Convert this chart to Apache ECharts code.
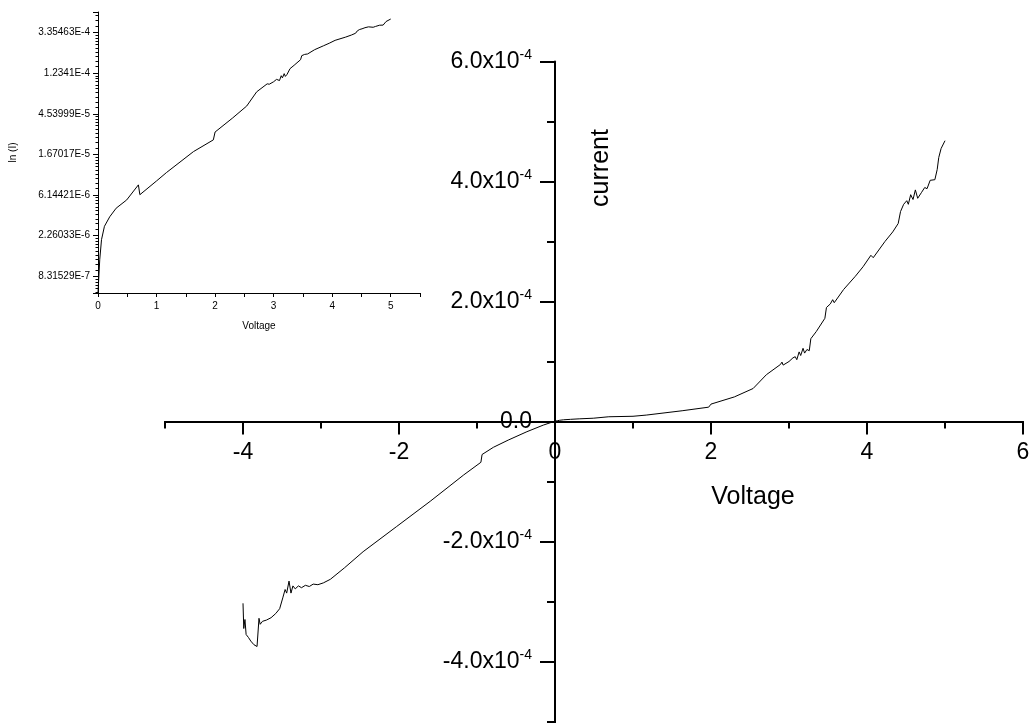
<!DOCTYPE html>
<html>
<head>
<meta charset="utf-8">
<script src="https://cdn.jsdelivr.net/npm/echarts@6/dist/echarts.min.js"></script>
<style>
  html, body { margin: 0; padding: 0; background: #fff; }
  #chart { width: 1031px; height: 723px; }
</style>
</head>
<body>
<div id="chart"></div>
<script>
// I-V sweep, current in units of 1e-4 A
var voltsNeg = [-4.00, -3.99, -3.975, -3.96, -3.93, -3.90, -3.86, -3.82, -3.805, -3.795, -3.78, -3.75, -3.70, -3.64,
  -3.58, -3.53, -3.49, -3.46, -3.44, -3.41, -3.385, -3.36, -3.33, -3.29, -3.25, -3.20, -3.15, -3.10, -3.04, -2.97,
  -2.88, -2.70, -2.46, -2.03, -1.60, -1.17, -0.95, -0.935, -0.79, -0.60, -0.36, -0.15];
var currNeg = [-3.03, -3.45, -3.30, -3.55, -3.60, -3.66, -3.72, -3.75, -3.72, -3.28, -3.38, -3.33, -3.31, -3.27,
  -3.20, -3.12, -2.94, -2.80, -2.86, -2.66, -2.86, -2.74, -2.79, -2.74, -2.77, -2.73, -2.75, -2.71, -2.72, -2.69,
  -2.63, -2.44, -2.17, -1.75, -1.33, -0.89, -0.68, -0.55, -0.43, -0.31, -0.17, -0.06];

var voltsPos = [0, 0.03, 0.06, 0.11, 0.2, 0.31, 0.49, 0.69, 0.715, 1.0, 1.17, 1.63, 1.97, 2.0, 2.3, 2.54, 2.71,
  2.89, 2.91, 2.925, 3.0, 3.05, 3.08, 3.1, 3.13, 3.15, 3.18, 3.2, 3.23, 3.26, 3.28, 3.35, 3.46, 3.48, 3.53, 3.56,
  3.58, 3.7, 3.85, 3.95, 4.05, 4.08, 4.23, 4.33, 4.4, 4.43, 4.47, 4.51, 4.53, 4.56, 4.59, 4.62, 4.65, 4.7, 4.74,
  4.77, 4.81, 4.87, 4.9, 4.92, 4.95, 5.0];
var currPos = [0.0056, 0.0126, 0.0205, 0.0285, 0.036, 0.0445, 0.0545, 0.079, 0.062, 0.087, 0.107, 0.179, 0.239,
  0.29, 0.41, 0.55, 0.78, 0.95, 0.99, 0.94, 1.0, 1.06, 1.08, 1.03, 1.16, 1.10, 1.22, 1.14, 1.20, 1.18, 1.38, 1.50,
  1.72, 1.90, 1.96, 2.03, 1.98, 2.20, 2.42, 2.58, 2.77, 2.73, 3.00, 3.16, 3.30, 3.50, 3.62, 3.68, 3.62, 3.78, 3.70,
  3.86, 3.72, 3.82, 3.90, 3.88, 4.02, 4.03, 4.20, 4.40, 4.55, 4.68];

var xTicksMajor = [-4, -2, 0, 2, 4, 6];
var xTicksMinor = [-5, -3, -1, 1, 3, 5];
var UNIT = 1e-4;

var font = 'Liberation Sans, Arial, sans-serif';

function pairs(xs, ys) {
  return xs.map(function (x, i) { return [x, ys[i] * UNIT]; });
}

var mainData = pairs(voltsNeg, currNeg).concat(pairs(voltsPos, currPos));
var insetData = pairs(voltsPos, currPos);

function expLabel(v) {
  var p = Number(v).toExponential(5).split('e');
  return parseFloat(p[0]).toString() + 'E' + parseInt(p[1], 10);
}

var chart = echarts.init(document.getElementById('chart'));

// main grid runs past the bottom edge; axes are shifted inward so they cross at (0, 0)
chart.setOption({
  animation: false,
  backgroundColor: '#fff',
  textStyle: { fontFamily: font, color: '#000' },
  grid: [
    { left: 165, right: 8, top: 61.5, bottom: -58.5, outerBoundsMode: 'none', containLabel: false },
    { left: 98, top: 12, width: 322, height: 281, outerBoundsMode: 'none', containLabel: false }
  ],
  xAxis: [
    {
      type: 'value', gridIndex: 0, position: 'bottom', offset: -360,
      min: -5, max: 6, interval: 1,
      axisLine: { onZero: false, lineStyle: { color: '#000', width: 2 } },
      axisTick: { customValues: xTicksMajor, length: 13, lineStyle: { color: '#000', width: 2 } },
      axisLabel: { customValues: xTicksMajor, margin: 20, fontSize: 23, color: '#000', fontFamily: font },
      splitLine: { show: false }
    },
    {
      type: 'value', gridIndex: 0, position: 'bottom', offset: -360,
      min: -5, max: 6, interval: 1,
      axisLine: { onZero: false, lineStyle: { color: '#000', width: 2 } },
      axisTick: { customValues: xTicksMinor, length: 7, lineStyle: { color: '#000', width: 2 } },
      axisLabel: { show: false },
      splitLine: { show: false }
    },
    {
      type: 'value', gridIndex: 1, position: 'bottom',
      min: 0, max: 5.5, interval: 0.5,
      name: 'Voltage', nameLocation: 'middle', nameGap: 28,
      nameTextStyle: { fontSize: 10, color: '#000', fontFamily: font },
      axisLine: { onZero: false, lineStyle: { color: '#000', width: 1 } },
      axisTick: { length: 4, lineStyle: { color: '#000' } },
      axisLabel: {
        margin: 8, fontSize: 10, color: '#000', fontFamily: font,
        formatter: function (v) { return v % 1 === 0 ? String(v) : ''; }
      },
      splitLine: { show: false }
    }
  ],
  yAxis: [
    {
      type: 'value', gridIndex: 0, position: 'left', offset: -390,
      min: -6e-4, max: 6e-4, interval: 2e-4,
      axisLine: { onZero: false, lineStyle: { color: '#000', width: 2 } },
      axisTick: { length: 15, lineStyle: { color: '#000', width: 2 } },
      minorTick: { show: true, splitNumber: 2, length: 8, lineStyle: { color: '#000', width: 2 } },
      axisLabel: {
        margin: 23, fontSize: 23, color: '#000', fontFamily: font,
        formatter: function (v) {
          if (Math.abs(v) < 1e-12) return '0.0';
          return '{m|' + (v / UNIT).toFixed(1) + 'x10}{e|-4}';
        },
        rich: {
          m: { fontSize: 23, fontFamily: font, color: '#000', lineHeight: 26 },
          e: { fontSize: 14, fontFamily: font, color: '#000', verticalAlign: 'top', lineHeight: 12 }
        }
      },
      splitLine: { show: false }
    },
    {
      type: 'log', logBase: Math.E, gridIndex: 1,
      min: Math.exp(-14.41), max: Math.exp(-7.494),
      name: 'ln (I)', nameLocation: 'middle', nameGap: 80,
      nameTextStyle: { fontSize: 10, color: '#000', fontFamily: font },
      axisLine: { onZero: false, lineStyle: { color: '#000', width: 1 } },
      axisTick: { length: 5, lineStyle: { color: '#000' } },
      minorTick: { show: true, splitNumber: 10, length: 2.5, lineStyle: { color: '#000' } },
      axisLabel: {
        margin: 8, fontSize: 10, color: '#000', fontFamily: font,
        showMinLabel: false, showMaxLabel: false,
        formatter: expLabel
      },
      splitLine: { show: false },
      minorSplitLine: { show: false }
    }
  ],
  graphic: [
    {
      type: 'text', x: 601, y: 168, rotation: Math.PI / 2,
      style: { text: 'current', font: '25px ' + font, fill: '#000', textAlign: 'center', textVerticalAlign: 'middle' }
    },
    {
      type: 'text', x: 753, y: 497,
      style: { text: 'Voltage', font: '25px ' + font, fill: '#000', textAlign: 'center', textVerticalAlign: 'middle' }
    }
  ],
  series: [
    {
      type: 'line', xAxisIndex: 0, yAxisIndex: 0,
      data: mainData, showSymbol: false,
      lineStyle: { color: '#000', width: 1 }
    },
    {
      type: 'line', xAxisIndex: 2, yAxisIndex: 1,
      data: insetData, showSymbol: false,
      lineStyle: { color: '#000', width: 1 }
    }
  ]
});
</script>
</body>
</html>
